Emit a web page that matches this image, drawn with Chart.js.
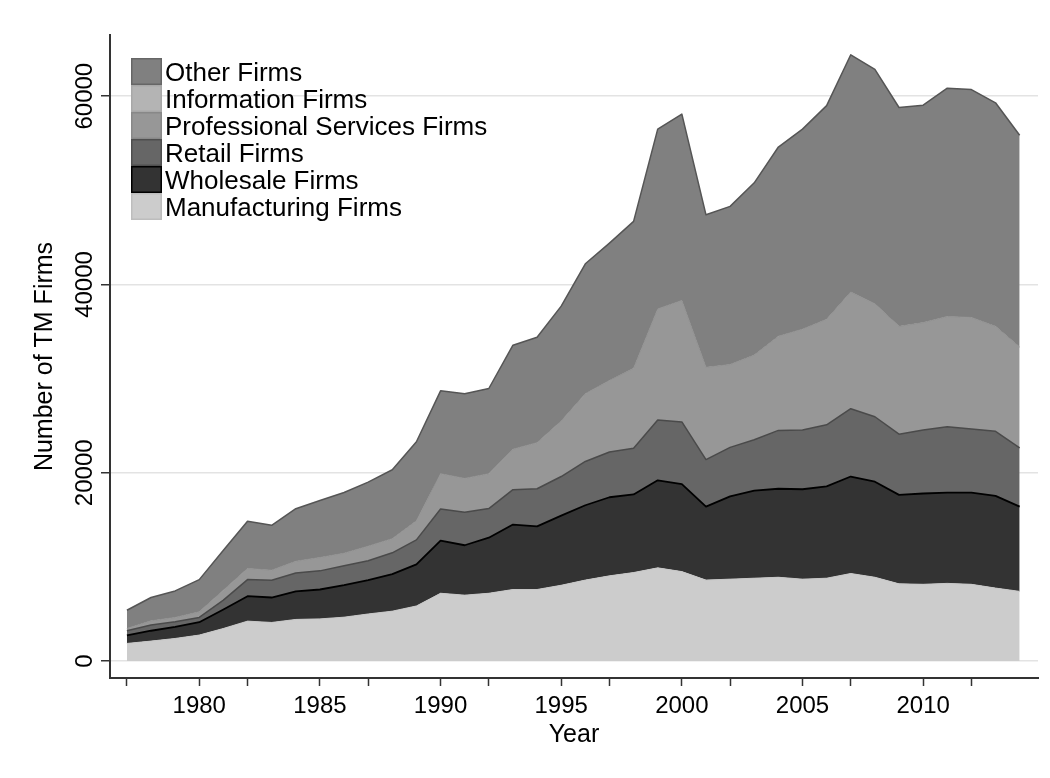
<!DOCTYPE html>
<html><head><meta charset="utf-8">
<script src="https://cdn.jsdelivr.net/npm/chart.js@4.4.1/dist/chart.umd.min.js"></script>
<style>html,body{margin:0;padding:0;background:#fff}#wrap{width:1050px;height:778px}</style>
</head><body><div id="wrap"><canvas id="c" width="1050" height="778"></canvas></div>
<script>
// ---- data ----
const years = [1977,1978,1979,1980,1981,1982,1983,1984,1985,1986,1987,1988,1989,1990,1991,1992,1993,1994,1995,1996,1997,1998,1999,2000,2001,2002,2003,2004,2005,2006,2007,2008,2009,2010,2011,2012,2013,2014];
const manufacturing = [1870,2120,2400,2760,3460,4240,4100,4420,4480,4660,5000,5300,5850,7200,7000,7200,7600,7600,8050,8600,9050,9400,9900,9500,8600,8700,8800,8900,8700,8800,9300,8900,8200,8150,8250,8150,7750,7400];
const wholesale = [850,1100,1240,1370,2020,2650,2650,2980,3120,3400,3590,3940,4420,5600,5300,5900,6900,6700,7400,7950,8350,8300,9300,9300,7800,8800,9300,9400,9550,9750,10300,10150,9450,9650,9650,9750,9800,9000];
const retail = [500,600,530,500,990,1760,1840,1960,1980,2060,2060,2260,2600,3350,3500,3100,3700,4000,4150,4650,4800,4900,6400,6600,5000,5200,5400,6200,6300,6550,7200,6900,6450,6750,7000,6750,6850,6250];
const professional = [240,450,460,600,1060,1180,1060,1240,1420,1330,1550,1500,2030,3750,3600,3700,4300,4900,5900,7200,7600,8500,11800,12900,9800,8800,9000,10000,10700,11200,12400,12000,11450,11400,11700,11850,11150,10700];
const information = [0,0,0,0,0,0,0,0,0,0,0,0,0,0,0,0,0,0,0,0,0,0,0,0,0,0,0,0,0,0,0,0,0,0,0,0,0,0];
const other = [1940,2480,2820,3420,4240,5010,4770,5580,6050,6450,6800,7320,8400,8800,9000,9050,11050,11200,12200,13800,14600,15600,19100,19800,16200,16800,18300,20100,21250,22700,25200,24900,23250,23100,24250,24200,23750,22500];
const yTickValues = [0,20000,40000,60000];
const xTickValues = [1977,1980,1982,1985,1987,1990,1992,1995,1997,2000,2002,2005,2007,2010,2012];
const xLabelValues = [1980,1985,1990,1995,2000,2005,2010];

const FONT = "'Liberation Sans', Arial, Helvetica, sans-serif";
const pts = arr => years.map((yr,i)=>({x:yr, y:arr[i]}));

function ds(label, arr, bg, border, bw, legendBorder, fill){
  return {label, data: pts(arr), backgroundColor: bg, borderColor: border, borderWidth: bw,
    legendBorder, fill, pointRadius:0, pointHoverRadius:0, tension:0};
}

const datasets = [
  ds('Manufacturing Firms', manufacturing, '#cccccc', '#c6c6c6', 1, '#bdbdbd', 'origin'),
  ds('Wholesale Firms', wholesale, '#333333', '#000000', 1.8, '#000000', '-1'),
  ds('Retail Firms', retail, '#666666', '#4a4a4a', 1.5, '#4e4e4e', '-1'),
  ds('Professional Services Firms', professional, '#979797', '#909090', 1, '#888888', '-1'),
  ds('Information Firms', information, '#b4b4b4', 'rgba(0,0,0,0)', 0, '#a8a8a8', '-1'),
  ds('Other Firms', other, '#808080', '#555555', 1.5, '#666666', '-1')
];

const yLabelsPlugin = {
  id:'yLabels',
  afterDraw(chart){
    const s = chart.scales.y, c = chart.ctx;
    c.save();
    c.font = `24px ${FONT}`; c.fillStyle = '#000';
    c.textAlign = 'center'; c.textBaseline = 'middle';
    s.ticks.forEach(t=>{
      const y = s.getPixelForValue(t.value);
      c.save(); c.translate(85, y); c.rotate(-Math.PI/2);
      c.fillText(String(t.value), 0, 0);
      c.restore();
    });
    c.restore();
  }
};

const legendPlugin = {
  id:'legendBox',
  afterDraw(chart){
    const c = chart.ctx;
    const list = chart.data.datasets.slice().reverse();
    let y = 58;
    c.save();
    list.forEach(d=>{
      c.fillStyle = d.backgroundColor;
      c.fillRect(131, y, 31, 27);
      c.strokeStyle = d.legendBorder; c.lineWidth = 1.5;
      c.strokeRect(131.75, y+0.75, 29.5, 25.5);
      c.fillStyle = '#000'; c.font = `26px ${FONT}`;
      c.textAlign = 'left'; c.textBaseline = 'middle';
      c.fillText(d.label, 165, y + 16);
      y += 27;
    });
    c.restore();
  }
};

new Chart(document.getElementById('c'), {
  type:'line',
  data:{datasets},
  options:{
    responsive:false, animation:false,
    layout:{padding:{top:35, right:12, left:0, bottom:0}},
    plugins:{legend:{display:false}, tooltip:{enabled:false}},
    elements:{line:{borderJoinStyle:'round'}},
    scales:{
      x:{
        type:'linear', min:1976.3, max:2014.76,
        afterBuildTicks: s => { s.ticks = xTickValues.map(v=>({value:v})); },
        ticks:{autoSkip:false, maxRotation:0, minRotation:0, font:{family:FONT, size:24}, color:'#000', padding:6,
          callback:(v)=> xLabelValues.includes(v) ? String(v) : ''},
        grid:{drawOnChartArea:false, drawTicks:true, tickLength:8, tickColor:'#333', tickWidth:1.5},
        border:{color:'#333', width:2},
        title:{display:true, text:'Year', font:{family:FONT, size:25}, color:'#000', padding:{top:0, bottom:28}},
        afterFit: s => { s.height = 100; }
      },
      y:{
        stacked:true, min:-1800, max:66500,
        afterBuildTicks: s => { s.ticks = yTickValues.map(v=>({value:v})); },
        ticks:{display:false},
        grid:{color:'#e3e3e3', lineWidth:1.5, drawTicks:true, tickLength:9, tickColor:'#333', tickWidth:1.5},
        border:{color:'#333', width:2},
        title:{display:true, text:'Number of TM Firms', font:{family:FONT, size:25}, color:'#000', padding:{top:30, bottom:0}},
        afterFit: s => { s.width = 110; }
      }
    }
  },
  plugins:[yLabelsPlugin, legendPlugin]
});
</script>
</body></html>
